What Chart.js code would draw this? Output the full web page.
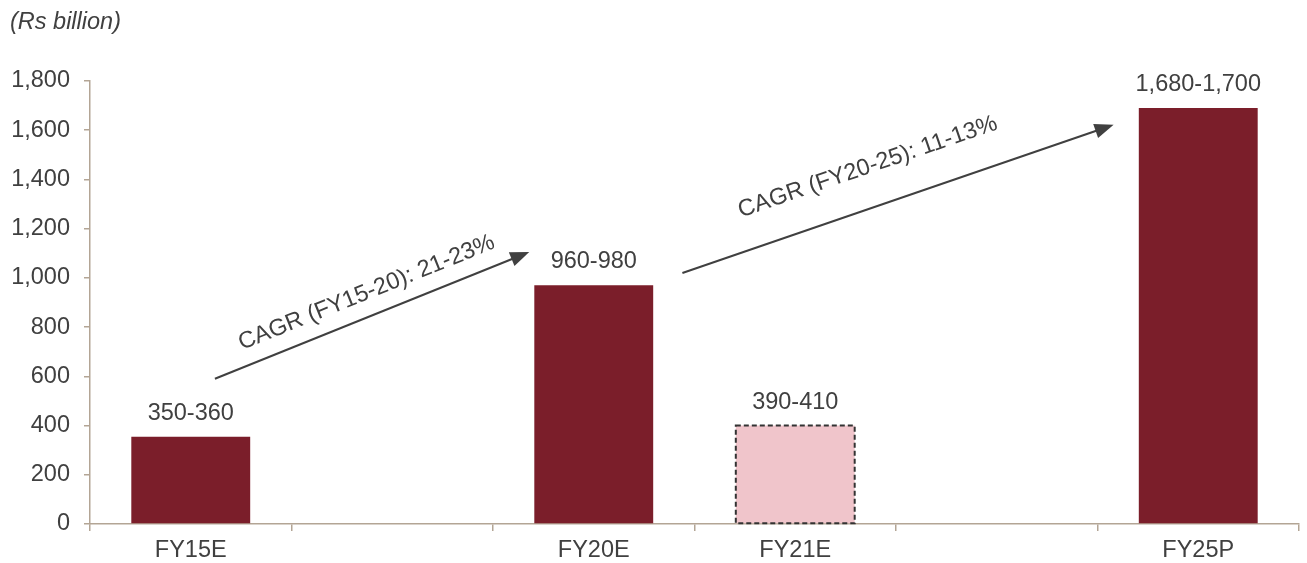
<!DOCTYPE html>
<html>
<head>
<meta charset="utf-8">
<script src="https://cdn.jsdelivr.net/npm/chart.js@4.4.0/dist/chart.umd.min.js"></script>
<style>
  html, body { margin: 0; padding: 0; background: #fff; }
</style>
</head>
<body>
<canvas id="market-chart" width="1307" height="563"></canvas>
<script>
// data
const categories = ['FY15E', '', 'FY20E', 'FY21E', '', 'FY25P'];
const values = [355, null, 970, 400, null, 1690];
const rangeLabels = ['350-360', '', '960-980', '390-410', '', '1,680-1,700'];
const barColors = ['#7b1e2a', '#7b1e2a', '#7b1e2a', '#f0c5cb', '#7b1e2a', '#7b1e2a'];
const dashedBars = [false, false, false, true, false, false];
const yTicks = { min: 0, max: 1800, step: 200 };
const unitLabel = '(Rs billion)';

// growth arrows, in category index / value units
const arrowFrom = [[0.12, 590], [2.44, 1020]];
const arrowTo = [[1.68, 1105], [4.58, 1622]];
const arrowText = ['CAGR (FY15-20): 21-23%', 'CAGR (FY20-25): 11-13%'];
const arrowTextAt = [0.51, 0.46];
const arrowTextGap = [23, 40];

const FONT = '"Liberation Sans", Arial, sans-serif';
const TEXT = '#404040';
const AXIS = '#b3a595';
const SIZE = 23.5;

const extrasPlugin = {
    id: 'extras',
    afterDatasetsDraw(chart) {
        const ctx = chart.ctx;
        const x = chart.scales.x, y = chart.scales.y;
        const meta = chart.getDatasetMeta(0);
        ctx.save();

        // dashed outline for the estimate bar
        meta.data.forEach((bar, i) => {
            if (!dashedBars[i] || values[i] == null) return;
            const p = bar.getProps(['x', 'y', 'base', 'width'], true);
            ctx.strokeStyle = '#333333';
            ctx.lineWidth = 2;
            ctx.setLineDash([5, 3]);
            ctx.strokeRect(p.x - p.width / 2, p.y, p.width, p.base - p.y);
            ctx.setLineDash([]);
        });

        // value range labels
        ctx.fillStyle = TEXT;
        ctx.font = SIZE + 'px ' + FONT;
        ctx.textAlign = 'center';
        ctx.textBaseline = 'alphabetic';
        meta.data.forEach((bar, i) => {
            if (values[i] == null) return;
            ctx.fillText(rangeLabels[i], bar.x, bar.y - 17);
        });

        // arrows with CAGR text
        arrowFrom.forEach((f, i) => {
            const x1 = x.getPixelForValue(f[0]), y1 = y.getPixelForValue(f[1]);
            const x2 = x.getPixelForValue(arrowTo[i][0]), y2 = y.getPixelForValue(arrowTo[i][1]);
            const ang = Math.atan2(y2 - y1, x2 - x1);
            const head = 19, hw = 7.5;
            ctx.strokeStyle = TEXT;
            ctx.lineWidth = 2;
            ctx.beginPath();
            ctx.moveTo(x1, y1);
            ctx.lineTo(x2 - Math.cos(ang) * head * 0.8, y2 - Math.sin(ang) * head * 0.8);
            ctx.stroke();
            ctx.fillStyle = TEXT;
            ctx.beginPath();
            ctx.moveTo(x2, y2);
            ctx.lineTo(x2 - Math.cos(ang) * head - Math.sin(ang) * hw, y2 - Math.sin(ang) * head + Math.cos(ang) * hw);
            ctx.lineTo(x2 - Math.cos(ang) * head + Math.sin(ang) * hw, y2 - Math.sin(ang) * head - Math.cos(ang) * hw);
            ctx.closePath();
            ctx.fill();

            const t = arrowTextAt[i], gap = arrowTextGap[i];
            const tx = x1 + (x2 - x1) * t + Math.sin(ang) * gap;
            const ty = y1 + (y2 - y1) * t - Math.cos(ang) * gap;
            ctx.save();
            ctx.translate(tx, ty);
            ctx.rotate(ang);
            ctx.font = SIZE + 'px ' + FONT;
            ctx.textAlign = 'center';
            ctx.textBaseline = 'middle';
            ctx.fillText(arrowText[i], 0, 0);
            ctx.restore();
        });

        // unit label top left
        ctx.font = 'italic ' + SIZE + 'px ' + FONT;
        ctx.textAlign = 'left';
        ctx.textBaseline = 'middle';
        ctx.fillStyle = TEXT;
        ctx.fillText(unitLabel, 10, 22);
        ctx.restore();
    }
};

const ctx = document.getElementById('market-chart').getContext('2d');
const chart = new Chart(ctx, {
    type: 'bar',
    data: {
        labels: categories,
        datasets: [{
            data: values,
            backgroundColor: barColors,
            borderWidth: 0,
            categoryPercentage: 1,
            barPercentage: 0.59
        }]
    },
    options: {
        responsive: false,
        animation: false,
        devicePixelRatio: 1,
        layout: { padding: { left: 0, right: 8, top: 81, bottom: 0 } },
        plugins: {
            legend: { display: false },
            tooltip: { enabled: false }
        },
        scales: {
            x: {
                grid: { offset: true, drawOnChartArea: false, drawTicks: true, tickLength: 7, color: AXIS, lineWidth: 1.5 },
                border: { color: AXIS, width: 1.5 },
                ticks: { color: TEXT, font: { family: FONT, size: SIZE }, padding: 5, maxRotation: 0, autoSkip: false },
                afterFit(scale) { scale.height = 39; }
            },
            y: {
                min: yTicks.min,
                max: yTicks.max,
                grid: { drawOnChartArea: false, drawTicks: true, tickLength: 6, color: AXIS, lineWidth: 1.5 },
                border: { color: AXIS, width: 1.5 },
                ticks: {
                    stepSize: yTicks.step,
                    color: TEXT,
                    font: { family: FONT, size: SIZE },
                    padding: 14,
                    callback: v => v.toLocaleString('en-US')
                },
                afterFit(scale) { scale.width = 90; }
            }
        }
    },
    plugins: [extrasPlugin]
});
</script>
</body>
</html>
